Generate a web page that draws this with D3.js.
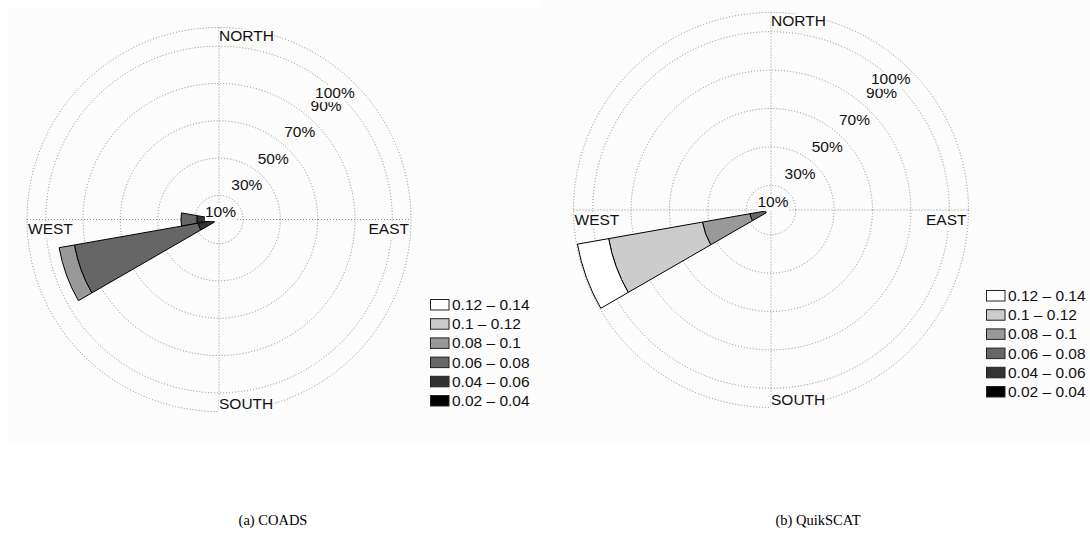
<!DOCTYPE html>
<html>
<head>
<meta charset="utf-8">
<script src="https://cdn.jsdelivr.net/npm/d3@7"></script>
<style>
  html, body { margin: 0; padding: 0; background: #ffffff; }
  svg { display: block; }
  text { font-family: "Liberation Sans", Arial, Helvetica, sans-serif; }
  .caption { font-family: "Liberation Serif", "Times New Roman", serif; }
</style>
</head>
<body>
<svg id="chart" width="1090" height="557"></svg>
<script>
// Wind speed bins (legend shows them from the highest to the lowest)
const speedBins = ["0.02 – 0.04", "0.04 – 0.06", "0.06 – 0.08", "0.08 – 0.1", "0.1 – 0.12", "0.12 – 0.14"];
// Radial grid rings, in percent of observations
const ringTicks = [10, 30, 50, 70, 90, 100];
// Compass labels
const compassNames = ["NORTH", "EAST", "SOUTH", "WEST"];
// Sector bearings (degrees clockwise from north); each sector is 20 degrees wide
const sectorWidth = 20;
// COADS: frequency (%) per speed bin, for each populated sector
const coadsBearings = [270, 250];
const coadsW   = [0, 9.0, 8.5, 0, 0, 0];
const coadsWSW = [0, 8.4, 67.4, 8.3, 0, 0];
// QuikSCAT: frequency (%) per speed bin
const quikBearings = [250];
const quikWSW = [0, 0, 8.3, 25.1, 49.6, 16.5];

const PANEL_BG = "#fcfcfc";

const panels = [
  { caption: "(a) COADS", bearings: coadsBearings, freqs: [coadsW, coadsWSW],
    bg: [8, 8, 532, 435], cx: 219, cy: 219.5, R: 192, r0: 5.4,
    legend: [430, 299], captionX: 273 },
  { caption: "(b) QuikSCAT", bearings: quikBearings, freqs: [quikWSW],
    bg: [540, 0, 550, 443], cx: 771, cy: 210, R: 197.5, r0: 5.5,
    legend: [986, 290], captionX: 818 }
];

const fill = d3.scaleOrdinal()
  .domain(speedBins)
  .range(["#000000", "#333333", "#666666", "#999999", "#cccccc", "#ffffff"]);

const svg = d3.select("#chart");
const rad = d => d * Math.PI / 180;
const FONT = 15.5;

// text drawn over an opaque box so that grid dots do not run through it
function boxedText(parent, x, y, anchor, str) {
  const grp = parent.append("g");
  const rect = grp.append("rect").attr("fill", PANEL_BG);
  const t = grp.append("text")
    .attr("x", x).attr("y", y)
    .attr("text-anchor", anchor)
    .attr("font-size", FONT)
    .attr("fill", "#111")
    .text(str);
  const bb = t.node().getBBox();
  rect.attr("x", bb.x).attr("width", bb.width)
    .attr("y", y - FONT * 0.78).attr("height", FONT * 0.78 + 4.5);
  return grp;
}

panels.forEach(p => {
  // light panel background
  svg.append("rect")
    .attr("x", p.bg[0]).attr("y", p.bg[1])
    .attr("width", p.bg[2]).attr("height", p.bg[3])
    .attr("fill", PANEL_BG);

  const g = svg.append("g").attr("transform", `translate(${p.cx},${p.cy})`);
  const r = d3.scaleLinear().domain([0, 100]).range([p.r0, p.R]);

  // dotted grid: rings and the two axes
  const grid = g.append("g")
    .attr("fill", "none")
    .attr("stroke", "#8a8a8a")
    .attr("stroke-width", 1)
    .attr("stroke-dasharray", "1,2");
  grid.selectAll("circle").data(ringTicks).join("circle")
    .attr("r", d => r(d));
  grid.append("line").attr("x1", -r(100)).attr("x2", r(100)).attr("y1", 0).attr("y2", 0);
  grid.append("line").attr("y1", -r(100)).attr("y2", r(100)).attr("x1", 0).attr("x2", 0);

  // stacked sectors
  const arc = d3.arc();
  p.bearings.forEach((b, i) => {
    let cum = 0;
    const segs = [];
    p.freqs[i].forEach((v, k) => {
      if (v > 0) segs.push({ bin: speedBins[k], from: cum, to: cum + v });
      cum += v;
    });
    g.append("g").selectAll("path").data(segs).join("path")
      .attr("d", d => arc({
        innerRadius: r(d.from), outerRadius: r(d.to),
        startAngle: rad(b - sectorWidth / 2), endAngle: rad(b + sectorWidth / 2)
      }))
      .attr("fill", d => fill(d.bin))
      .attr("stroke", "#000")
      .attr("stroke-width", 1)
      .attr("stroke-linejoin", "miter");
  });

  // ring labels along the north-east diagonal
  const ringLabels = g.append("g");
  ringTicks.forEach(d => {
    boxedText(ringLabels,
      r(d) * Math.cos(rad(45)),
      -r(d) * Math.sin(rad(45)) + 14,
      "end", d + "%");
  });

  // compass labels
  const R = r(100);
  const pos = {
    "NORTH": { x: 0, y: -R + 13.5, a: "start" },
    "SOUTH": { x: 0, y: R - 2.5, a: "start" },
    "WEST":  { x: -R + 1, y: 14.5, a: "start" },
    "EAST":  { x: R - 2, y: 14.5, a: "end" }
  };
  const compass = g.append("g");
  compassNames.forEach(d => boxedText(compass, pos[d].x, pos[d].y, pos[d].a, d));

  // legend, highest bin on top
  const legendBins = speedBins.slice().reverse();
  const lg = svg.append("g").attr("transform", `translate(${p.legend[0]},${p.legend[1]})`);
  const row = lg.selectAll("g").data(legendBins).join("g")
    .attr("transform", (d, i) => `translate(0,${i * 19.2})`);
  row.append("rect")
    .attr("x", 0.5).attr("y", 0.5)
    .attr("width", 18.5).attr("height", 10.5)
    .attr("fill", d => fill(d))
    .attr("stroke", "#222")
    .attr("stroke-width", 1);
  row.append("text")
    .attr("x", 22).attr("y", 11)
    .attr("font-size", FONT)
    .attr("fill", "#111")
    .text(d => d);

  // caption
  svg.append("text")
    .attr("class", "caption")
    .attr("x", p.captionX).attr("y", 525)
    .attr("text-anchor", "middle")
    .attr("font-size", 14.5)
    .attr("fill", "#000")
    .text(p.caption);
});
</script>
</body>
</html>
